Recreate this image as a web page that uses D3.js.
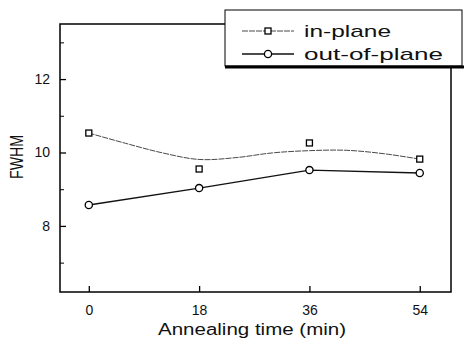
<!DOCTYPE html>
<html>
<head>
<meta charset="utf-8">
<script src="https://d3js.org/d3.v7.min.js"></script>
<style>
body { margin: 0; background: #fff; }
text { font-family: "Liberation Sans", Arial, sans-serif; fill: #111; }
</style>
</head>
<body>
<div id="chart"></div>
<script>
// measured data
var times = [0, 18, 36, 54];
var inPlane = [10.53, 9.55, 10.26, 9.82];
var outPlane = [8.57, 9.03, 9.52, 9.44];
// fitted curve drawn through in-plane points
var fitTimes = [0, 6, 12, 18, 24, 30, 36, 42, 48, 54];
var fitVals = [10.53, 10.25, 9.99, 9.81, 9.86, 9.99, 10.05, 10.06, 9.97, 9.82];
var yMajor = [8, 10, 12];
var yMinor = [7, 9, 11, 13];
var seriesNames = ["in-plane", "out-of-plane"];

var width = 464, height = 343;
var pLeft = 60, pRight = 451, pTop = 24, pBottom = 292;

var x = d3.scaleLinear().domain([-4.7, 59.1]).range([pLeft, pRight]);
var y = d3.scaleLinear().domain([6.2, 13.5]).range([pBottom, pTop]);

var svg = d3.select("#chart").append("svg")
  .attr("width", width)
  .attr("height", height);

/* frame */
svg.append("rect")
  .attr("x", pLeft).attr("y", pTop)
  .attr("width", pRight - pLeft).attr("height", pBottom - pTop)
  .attr("fill", "none").attr("stroke", "#000").attr("stroke-width", 1.5);

/* axes, ticks pointing inward */
svg.append("g")
  .attr("transform", `translate(0,${pBottom})`)
  .call(d3.axisBottom(x).tickValues(times).tickSizeInner(-6).tickSizeOuter(0).tickPadding(13))
  .call(g => g.select(".domain").remove())
  .call(g => g.selectAll("line").attr("stroke-width", 1.3))
  .call(g => g.selectAll("text").attr("font-size", 14).style("font-family", "Liberation Sans, Arial"));

svg.append("g")
  .attr("transform", `translate(${pLeft},0)`)
  .call(d3.axisLeft(y).tickValues(yMajor).tickSizeInner(-6).tickSizeOuter(0).tickPadding(10))
  .call(g => g.select(".domain").remove())
  .call(g => g.selectAll("line").attr("stroke-width", 1.3))
  .call(g => g.selectAll("text").attr("font-size", 14).style("font-family", "Liberation Sans, Arial"));

svg.append("g")
  .attr("transform", `translate(${pLeft},0)`)
  .call(d3.axisLeft(y).tickValues(yMinor).tickSizeInner(-4).tickSizeOuter(0).tickFormat(""))
  .call(g => g.select(".domain").remove());

/* axis titles */
svg.append("text")
  .attr("x", 158).attr("y", 335)
  .attr("font-size", 16)
  .attr("textLength", 188).attr("lengthAdjust", "spacingAndGlyphs")
  .text("Annealing time (min)");

svg.append("text")
  .attr("transform", "translate(23,157) rotate(-90)")
  .attr("text-anchor", "middle")
  .attr("font-size", 18)
  .attr("textLength", 44).attr("lengthAdjust", "spacingAndGlyphs")
  .text("FWHM");

/* lines */
var fitLine = d3.line()
  .x(d => x(d[0])).y(d => y(d[1]))
  .curve(d3.curveCatmullRom);
svg.append("path")
  .datum(d3.zip(fitTimes, fitVals))
  .attr("d", fitLine)
  .attr("fill", "none").attr("stroke", "#333").attr("stroke-width", 0.9)
  .attr("stroke-dasharray", "6,1");

var outLine = d3.line().x(d => x(d[0])).y(d => y(d[1]));
svg.append("path")
  .datum(d3.zip(times, outPlane))
  .attr("d", outLine)
  .attr("fill", "none").attr("stroke", "#111").attr("stroke-width", 1.4);

/* markers */
svg.selectAll(".sq")
  .data(d3.zip(times, inPlane)).enter()
  .append("rect")
  .attr("class", "sq")
  .attr("x", d => x(d[0]) - 3).attr("y", d => y(d[1]) - 3)
  .attr("width", 6).attr("height", 6)
  .attr("fill", "#fff").attr("stroke", "#000").attr("stroke-width", 1.3);

svg.selectAll(".ci")
  .data(d3.zip(times, outPlane)).enter()
  .append("circle")
  .attr("class", "ci")
  .attr("cx", d => x(d[0])).attr("cy", d => y(d[1]))
  .attr("r", 3.6)
  .attr("fill", "#fff").attr("stroke", "#000").attr("stroke-width", 1.3);

/* legend */
var lg = svg.append("g");
lg.append("rect")
  .attr("x", 225).attr("y", 10).attr("width", 237).attr("height", 56)
  .attr("fill", "#fff").attr("stroke", "#000").attr("stroke-width", 1);
lg.append("line")
  .attr("x1", 225).attr("x2", 464).attr("y1", 67).attr("y2", 67)
  .attr("stroke", "#000").attr("stroke-width", 3);

var rowY = [31, 54];
var rowW = [87, 139];
seriesNames.forEach(function(name, i) {
  var yy = rowY[i];
  lg.append("line")
    .attr("x1", 242).attr("x2", 294).attr("y1", yy).attr("y2", yy)
    .attr("stroke", i === 0 ? "#333" : "#111")
    .attr("stroke-width", i === 0 ? 0.9 : 1.4)
    .attr("stroke-dasharray", i === 0 ? "6,1" : null);
  if (i === 0) {
    lg.append("rect")
      .attr("x", 265).attr("y", yy - 3).attr("width", 6).attr("height", 6)
      .attr("fill", "#fff").attr("stroke", "#000").attr("stroke-width", 1.3);
  } else {
    lg.append("circle")
      .attr("cx", 268).attr("cy", yy).attr("r", 3.6)
      .attr("fill", "#fff").attr("stroke", "#000").attr("stroke-width", 1.3);
  }
  lg.append("text")
    .attr("x", 304).attr("y", yy + 6)
    .attr("font-size", 17)
    .attr("textLength", rowW[i]).attr("lengthAdjust", "spacingAndGlyphs")
    .text(name);
});
</script>
</body>
</html>
